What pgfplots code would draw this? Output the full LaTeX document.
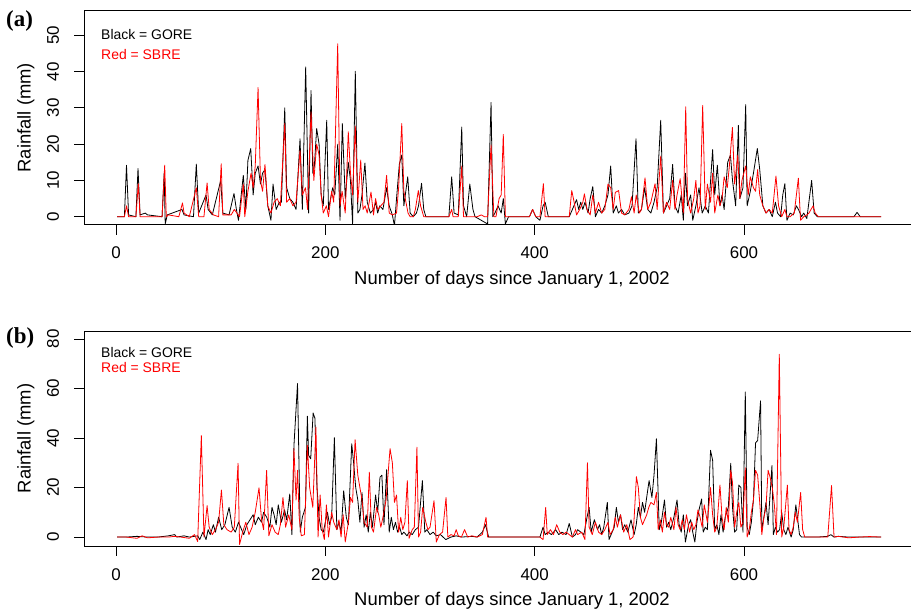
\documentclass[border=0pt]{standalone}
\usepackage{pgfplots}
\pgfplotsset{compat=1.18}
\usepackage{fontspec}
\setmainfont{Liberation Sans}
\newfontfamily\serifbf{Liberation Serif}
\begin{document}
\begin{tikzpicture}[x=1bp,y=1bp]
\useasboundingbox (0,0) rectangle (911,610);
\pgfplotsset{
  rain/.style={
    scale only axis, width=828bp, xmin=-30.6, xmax=760.5,
    axis line style={line width=0.8bp},
    xtick={0,200,400,600}, xtick pos=bottom, ytick pos=left,
    tick align=outside, major tick length=10bp,
    every tick/.style={black, line width=0.8bp},
    tick label style={font=\fontsize{17}{17}\selectfont, inner sep=0pt},
    xticklabel style={anchor=north, yshift=-12bp},
    yticklabel style={xshift=-14.7bp, rotate=90, anchor=south},
    /pgf/number format/assume math mode=true,
  },
  gore/.style={black, line width=0.8bp, line join=round},
  sbre/.style={red, line width=0.8bp, line join=round},
}
% ---------------- panel (a) ----------------
\begin{axis}[rain, at={(84bp,385.3bp)}, anchor=south west, height=214bp,
  ymin=-2.2, ymax=56.8, ytick={0,10,20,30,40,50}]
\addplot[gore] coordinates {(1,0)(8,0)(10,14.2)(12,0.5)(19,0)(21,13.3)(23,0.5)(28,1)(30,0.5)(44,0)(46,12)(47,-2)(49,0.5)(63,2)(65,0.5)(74,0)(76.7,14.5)(79,1)(86,6)(88,2)(92,0.5)(100,10)(102,1)(108,0.5)(112.7,6.4)(115,2)(117,-1)(121.6,11.4)(124,2)(126,15.5)(128.7,18.8)(131,6)(133,12)(135.7,14)(138,9)(140,12)(142.3,13)(145,3)(148,-1)(150,9)(153,2)(156,4)(158,4)(161.2,30)(163,8)(166,5)(169,4)(172,2)(175.8,21.5)(178,2)(181.2,41.3)(184,1)(186.3,34.8)(188,12)(189.5,14)(191.7,24.3)(194,20)(196,6)(198,3)(201.3,26.6)(203,2)(205,5)(207,8)(209,6)(211.8,20)(214,-1)(216.2,25.7)(219,5)(221.9,15)(224,10)(226,-2)(228.6,40.1)(231,1)(233,2)(235,6)(237.8,14.8)(240,4)(243,1)(246,2)(248,4)(250,1)(252,3)(255,2)(258.5,8)(261,3)(264,0.5)(266,-2.5)(268,5)(270.7,14.5)(273,17)(275,3)(278.7,11)(281,1)(284,0)(287,1)(289,3)(291.9,9.2)(294,2)(296,0)(318,0)(320.7,11)(323,1)(327,0.5)(330.3,24.7)(332,3)(335,0)(338,9)(341,2)(343,0)(355,-2)(358.3,31.5)(360,0)(362,1)(365,3)(368,1)(370,5)(372,-2)(375,0)(395,0)(398,2)(401,0)(405,-1)(408,3)(410,4)(413,0)(433,0)(436,2)(440,4.7)(442,2)(444,4)(446,2)(448,4)(451,1)(453,5)(455.5,8.3)(458,0)(461,2)(464,1)(467,3)(470,6)(472.6,14)(475,1)(478,3)(480,1)(483,2)(486,0.5)(490,1)(493,3)(496.8,21.5)(499,1)(502,2)(505,8)(508,2)(511,1)(514,4)(517,8)(520.4,26.6)(523,1)(526,3)(529,5)(531.8,14.4)(534,3)(537,1)(540,6)(542,-1)(544,12)(546,3)(549,6)(551,-1)(554,3)(557,8)(560,1)(563,3)(566,1)(570,18.5)(572,6)(574.5,14.2)(577,3)(579,6)(581,2)(584.4,15)(587,17)(589,10)(592,3)(594.6,25.2)(596,5)(599,8)(601.6,30.9)(603,3)(606,7)(609,12)(612.7,18.8)(615,13)(618,3)(621,1)(624,2)(627,0)(630,4)(632,1)(635,0)(637,6)(639,9.1)(641,-1)(644,1)(647,0.5)(650,3)(652,2)(655,0)(657,1)(660,-0.5)(664.6,10)(667,1)(670,0)(705,0)(708,1.2)(711,0)(731,0)};
\addplot[sbre] coordinates {(1,0)(8,0)(10,3)(12,0)(19,0)(21.3,9.1)(23,0)(30,0)(44,0)(46.5,14.2)(48,0)(50,0.5)(60,0)(63.5,3.8)(65,1)(70,0)(76.7,8)(79,0)(84,0)(87,9.3)(89,2)(93,0.5)(98,0)(100.5,14.6)(102,0.5)(110,0.5)(113,2)(118,0)(121.6,9)(123,0)(126,7)(129,12)(131,8)(133,14)(135.7,35.6)(138,10)(140,7)(142.3,14.4)(145,3)(148,1)(151,4)(154,5)(157,3)(161.2,25.7)(163,4)(166,5)(169,3)(172,4)(175.8,18.3)(178,6)(181,8)(183,2)(186.3,28.9)(189,10)(191.7,20)(194,17)(196,6)(198,1)(201,3)(203,0)(206,7)(208,4)(211.8,47.7)(214,3)(216,7)(219,1)(221.9,23.4)(224,12)(226,6)(228.6,25)(231,4)(233.8,15.6)(236,2)(238,3)(240,1)(243.6,6.8)(246,0.5)(248,5)(250,2)(253,3)(256,4)(258.5,11.4)(261,1)(264,0.5)(268,1)(270,8)(273,25.7)(275,7)(277,4)(279,1)(281,0)(284,0)(286,2)(288.8,7.2)(291,3)(294,0)(318,0)(320.7,2)(322,0)(327,0)(330.3,14)(332,0)(345,0)(349,0.5)(352,0)(355,0)(358.3,19.8)(361,0)(363,0)(366,5)(368,6)(370,22.7)(372,0)(375,0)(395,0)(398,2)(401,0)(405,0)(408.3,9.1)(410,0)(413,0)(433,0)(435.4,7.2)(437,5)(440,0.5)(443,2)(446,4)(447.5,6.3)(450,2)(453,0.5)(455.5,6)(458,1)(461,4)(464,1)(467,2)(470,9)(472.6,8)(475,2)(477,6.7)(480.2,7.2)(483,1)(486,0.5)(490,2)(492.5,5.5)(495,1)(497,6)(500,1)(502,2)(505.4,10.7)(508,2)(511,4)(515,9.1)(517,2)(520.4,16.7)(523,1)(526,4)(529,2)(531.8,10)(534,2)(536,6)(539,10.5)(542,1)(544.3,30.3)(546,5)(549,1)(552,5)(554,10)(556,1)(558,3)(560.5,30.7)(563,2)(565,9)(568,4)(570,12)(572,1)(575,6)(577,3)(579,5)(581,11)(584,8)(586,14)(588.9,24.6)(591,9)(594,17)(596,5)(598,10)(601.6,14)(604,6)(606,11)(609,8)(611,7)(613,13)(615,6)(618,3)(621,1)(624,2)(627,1)(630.5,11.2)(633,3)(636,0)(639,2)(641,0)(644,0)(648,1)(651.9,10.6)(654,-1)(657,0)(660,0.5)(662,1)(664,2)(666,3)(668,1)(671,0)(731,0)};
\end{axis}
% ---------------- panel (b) ----------------
\begin{axis}[rain, at={(84bp,64bp)}, anchor=south west, height=215bp,
  ymin=-3.6, ymax=83.2, ytick={0,20,40,60,80}]
\addplot[gore] coordinates {(1,0)(10,0)(20,0.3)(30,0)(40,0)(50,0.5)(56,1)(58,0)(65,0.5)(70,0)(78,0.5)(80,-1)(83,2)(86,-1)(88,3)(90,1)(93,5)(95,2)(98,8)(101,3)(104,5)(108,12)(111,4)(114,2)(117,6)(120,3)(122,1)(125,5)(128,7)(131,9)(133,5)(136,8)(139,6)(141,10)(144,8)(147,4)(149,12)(151,9)(153,5)(155,13)(158,6)(161,11)(163,7)(166,17.4)(168,1)(170,37)(173.4,62)(176,2)(178,8)(181,12)(182.8,48.8)(184,33)(186,31.6)(188.3,50.1)(190,48)(192,20)(194,8)(196,3)(198,2)(200,6)(202,10)(204,5)(206,8)(208.6,40.1)(211,3)(213,6)(215,2)(217.5,18.7)(220,8)(222,5)(225.2,37.7)(227,30)(229,20)(231,15)(233,6)(235,18)(237,4)(239,9)(241,2)(243,10)(245,4)(248,17)(250,10)(252.2,24.2)(254,25)(256,5)(258.5,27.2)(261,2)(263,8)(265,3)(267,6)(269,2)(271,4)(273,1)(275,2)(278,0.5)(280,2)(283,1)(286,3)(289,4)(292.7,22.8)(295,2)(297,3)(300,1)(303,2)(306,0.5)(310,1)(315,-1)(320,0)(325,0.5)(330,0)(340,0.3)(345,0)(350,2)(353,5)(356,0)(360,0)(405,0)(408,4)(410,1)(413,2)(416,1)(420,3)(423,1)(426,2)(430,1)(433,5.5)(436,0)(439,1)(441,3)(444,2)(447,1)(450,8)(452,12)(454,2)(457,7)(460,3)(462,5)(464,1)(466,4)(469.4,14)(471,-1)(474,2)(476,4)(478,12)(480,6)(482,9)(484,3)(486,5)(489,2)(492,7)(495,1)(497,5)(499,12)(501,8)(503,14)(505,10)(507,16)(509.3,22.8)(512,16)(514,25)(516.3,39.7)(519,3)(521,6)(524,15)(526,4)(528,6)(530,3)(533,8)(536,15)(538,5)(540,2)(542,9)(544,-2)(547,5)(549,7)(551,2)(553,-2)(555,6)(557,11)(559.5,15.4)(561,2)(563,4)(565,3)(568,35)(570,31)(572,3)(574,5)(576,1)(578,9)(580,2)(582,8)(585,12)(587.3,29.8)(589,12)(591,2)(593,3)(595,21)(597,20)(599,2)(601.2,58.6)(603,4)(605,1)(607,6)(609,15)(611,38)(613,39)(615.8,55)(617,3)(619,8)(621,14)(623,5)(626.7,28.9)(628,1)(630,4)(632,2)(634,3)(636,10)(638,3)(640,1)(642,4)(645,0)(647,3)(649.5,13)(651,8)(653,1)(655,0)(658,0)(670,0)(680,0.3)(683,1)(686,0)(690,0.3)(700,0)(731,0)};
\addplot[sbre] coordinates {(1,0)(10,0)(20,-0.5)(25,0.5)(30,-0.3)(40,0)(50,0)(56,0.3)(62,0)(70,-0.5)(75,1)(78,-1.8)(81.5,41)(84,0)(87,12.7)(89,4)(92,1)(95,3)(98,6)(100.7,19)(103,5)(106,3)(110,2)(113,4)(116.6,29.8)(118,-3)(121,2)(124,6)(127,1)(130,4)(133,10)(136.6,19.9)(139,7)(141,3)(143.9,26.9)(146,0.5)(149,5)(152,2)(155,1)(157,5)(159.5,16)(162,4)(165,9)(168,3)(170,35.7)(172,15)(173.4,27)(175,8)(177,0.5)(180,1)(182.8,37)(185,20)(188,12)(191,44.4)(193,0)(195,17)(197,3)(199,-1)(201,13)(203,0)(206,10)(208,6)(211,3)(213,7)(215,0)(217,9)(219,-2)(222,6)(224,16)(226,14)(228.4,39.3)(231,25)(233,20)(235,15)(237,6)(240,4)(242,26.2)(244,4)(246,2)(249,12)(251,9)(253,4)(255,8)(258,15)(261.8,35.7)(264,30)(266,14)(268,17)(270,2)(272,8)(274,3)(276,6)(278.3,22.8)(280,-0.5)(283,3)(285,4)(287.5,36.3)(289,0)(291,2)(293,12)(296,6)(298,3)(300,4)(303.8,14.7)(306,-2)(309,1)(312,2)(315.3,16)(317,0)(320,1)(323,0.5)(325,3)(327,0.5)(330,0)(333,3)(336,0)(340,0.5)(345,0)(350,1)(353.5,8)(355,0)(360,0)(405,0)(408,-1)(410.5,12)(412,1)(415,3)(418,1)(421,5)(424,2)(427,1)(430,2)(433,1)(436,0)(439,3)(441,1)(445,2)(448,-1)(450.4,30)(452,4)(455,1)(458,6)(461,2)(464,1)(467,3)(470,6)(472,1)(475,3)(477,8)(479,4)(482,9)(485,2)(488,5)(491,-1)(494,0)(497.2,24.4)(499,20)(501,8)(503,5)(505,7)(507,9)(509,12)(511,14)(514,13)(516.3,18)(518,3)(520,7)(522,2)(524,10)(526,5)(528,4)(530,8)(533,3)(535,12)(537,5)(539,3)(541,7)(543,3)(545,9)(548,2)(550,6)(552,3)(554,5)(556,11)(558,8)(560,4)(562,13)(565,6)(568,20)(570,9)(572,2)(574,4)(577,21)(579,8)(581,3)(583,12)(585,6)(587.3,27)(589,22)(591,4)(593,10)(595,14)(597,4)(599,6)(601.2,28)(603,0)(605,3)(607,10)(609,15)(611,27)(613,25)(615,14)(617,1)(619,8)(621,12)(623,27)(625,24)(627,20)(629,13)(631,1)(633.7,73.8)(636,0)(638,4)(641.4,21)(643,3)(645,1)(647,4)(649,10)(651,6)(654.1,18)(656,3)(658,0)(670,0)(680,0)(683.6,20.8)(686,0)(690,0.3)(700,-0.3)(710,0)(720,0.2)(731,0)};
\end{axis}
% ---------------- texts ----------------
\node[anchor=base west, inner sep=0pt, font=\fontsize{14}{14}\selectfont] at (101,570) {Black = GORE};
\node[anchor=base west, inner sep=0pt, font=\fontsize{14}{14}\selectfont, text=red] at (101,550) {Red = SBRE};
\node[anchor=base west, inner sep=0pt, font=\fontsize{14}{14}\selectfont] at (101,252) {Black = GORE};
\node[anchor=base west, inner sep=0pt, font=\fontsize{14}{14}\selectfont, text=red] at (101,237) {Red = SBRE};
\node[anchor=base, inner sep=0pt, font=\fontsize{18.5}{18.5}\selectfont] at (512,325) {Number of days since January 1, 2002};
\node[anchor=base, inner sep=0pt, font=\fontsize{18.5}{18.5}\selectfont] at (512,4) {Number of days since January 1, 2002};
\node[anchor=base, inner sep=0pt, rotate=90, font=\fontsize{18.5}{18.5}\selectfont] at (30.7,492.3) {Rainfall (mm)};
\node[anchor=base, inner sep=0pt, rotate=90, font=\fontsize{18.5}{18.5}\selectfont] at (30.7,171.5) {Rainfall (mm)};
\node[anchor=base west, inner sep=0pt, font=\serifbf\bfseries\fontsize{23}{23}\selectfont] at (6,583) {(a)};
\node[anchor=base west, inner sep=0pt, font=\serifbf\bfseries\fontsize{23}{23}\selectfont] at (6,266) {(b)};
\end{tikzpicture}
\end{document}
